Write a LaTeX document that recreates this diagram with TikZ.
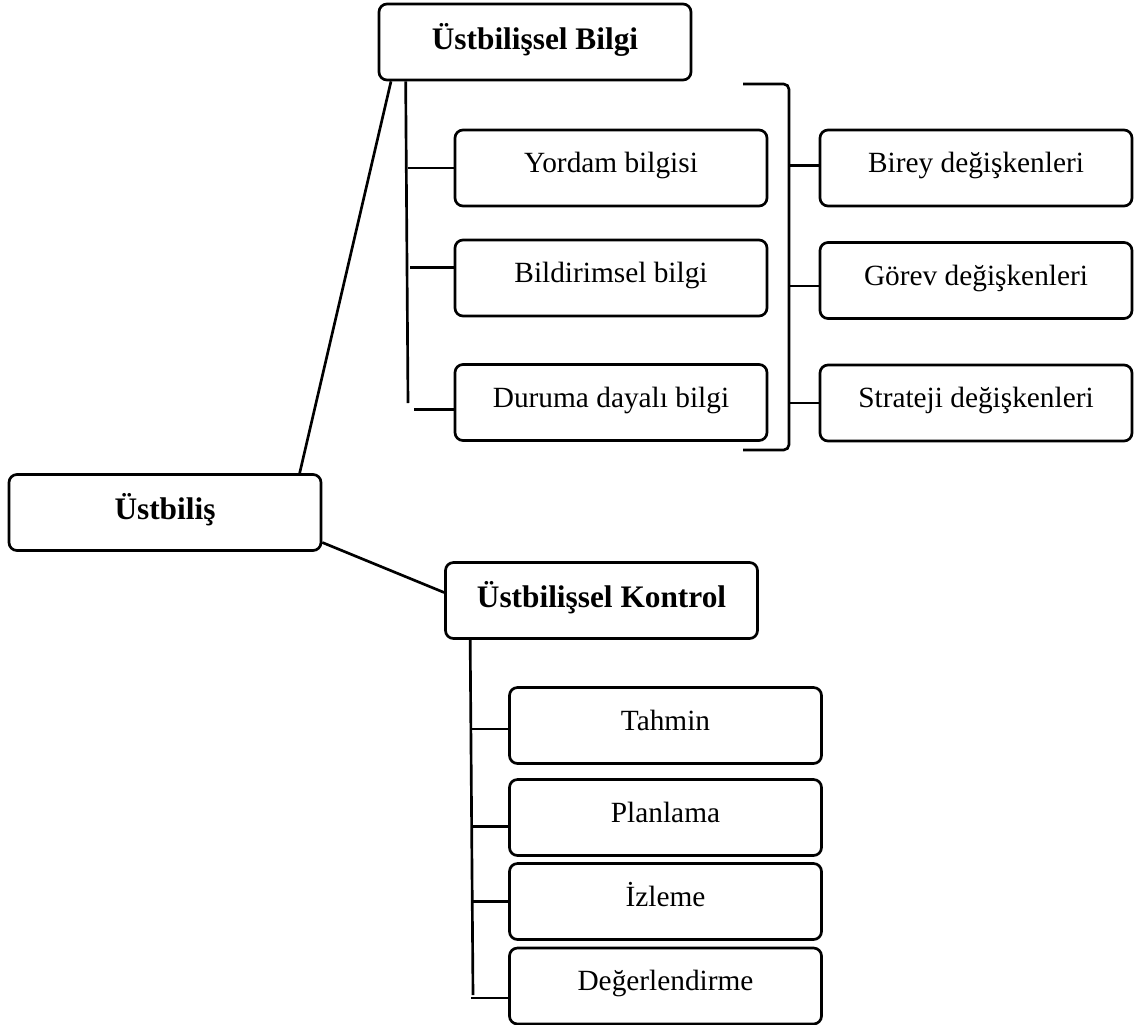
\documentclass[tikz,border=0pt]{standalone}
\usepackage{fontspec}
\setmainfont{Liberation Serif}
\usepackage{tikz}
\usepackage{xcolor}

\begin{document}
\begin{tikzpicture}[x=0.75pt,y=-0.75pt,
  every node/.style={font=\fontsize{22}{26}\selectfont},
  kutu/.style={draw,line width=2pt,rounded corners=6pt,minimum width=234pt,minimum height=57pt,
    inner sep=0pt,text height=16pt,text depth=9pt},
  ana/.style={kutu,font=\fontsize{23.5}{28}\selectfont\bfseries,text depth=5pt},
  hat/.style={line width=2pt}]
\useasboundingbox[fill=white] (0,0) rectangle (1147,1025);
% ana kutular
\node[ana] (bilgi) at (535,42) {Üstbilişsel Bilgi};
\node[ana] (ust) at (165,512.5) {Üstbiliş};
\node[ana] (kontrol) at (601.5,600.5) {Üstbilişsel Kontrol};
% bilgi alt kutulari
\node[kutu] (yordam) at (611,168) {Yordam bilgisi};
\node[kutu] (bildirim) at (611,278) {Bildirimsel bilgi};
\node[kutu] (durum) at (611,402.5) {Duruma dayalı bilgi};
\node[kutu] (birey) at (976,168) {Birey değişkenleri};
\node[kutu] (gorev) at (976,280.5) {Görev değişkenleri};
\node[kutu] (strateji) at (976,403) {Strateji değişkenleri};
% kontrol alt kutulari
\node[kutu] (tahmin) at (665.5,725.5) {Tahmin};
\node[kutu] (planlama) at (665.5,817.5) {Planlama};
\node[kutu] (izleme) at (665.5,901.5) {İzleme};
\node[kutu] (deger) at (665.5,986) {Değerlendirme};
% baglantilar
\draw[hat] ([xshift=101pt]ust.north) -- ([xshift=10pt]bilgi.south west);
\draw[hat] ([yshift=7pt]ust.south east) -- ([yshift=6pt]kontrol.west);
% bilgi dali
\coordinate (bspine) at (408,403);
\draw[hat] ([xshift=21pt]bilgi.south west) -- (bspine);
\draw[hat] (yordam.west) -- (yordam.west -| bspine);
\draw[hat] ([yshift=8pt]bildirim.west) -- ++(-44,0);
\draw[hat] ([yshift=-5pt]durum.west) -- ++(-40,0);
% parantez
\coordinate (ptop) at (743,84);
\coordinate (pbot) at (743,450);
\draw[hat,rounded corners=4pt] (ptop) -- (789,84) -- (789,450) -- (pbot);
\draw[hat] ([yshift=2pt]birey.west) -- ++(-31,0);
\draw[hat] ([yshift=-4pt]gorev.west) -- ++(-31,0);
\draw[hat] (strateji.west) -- ++(-31,0);
% kontrol dali
\coordinate (kspine) at (473,995);
\draw[hat] ([xshift=19.5pt]kontrol.south west) -- (kspine);
\draw[hat] ([yshift=-2.5pt]tahmin.west) -- ++(-37,0);
\draw[hat] ([yshift=-6.5pt]planlama.west) -- ++(-35,0);
\draw[hat] (izleme.west) -- (izleme.west -| kspine);
\draw[hat] ([yshift=-9pt]deger.west) -- ++(-37,0);
\end{tikzpicture}
\end{document}
